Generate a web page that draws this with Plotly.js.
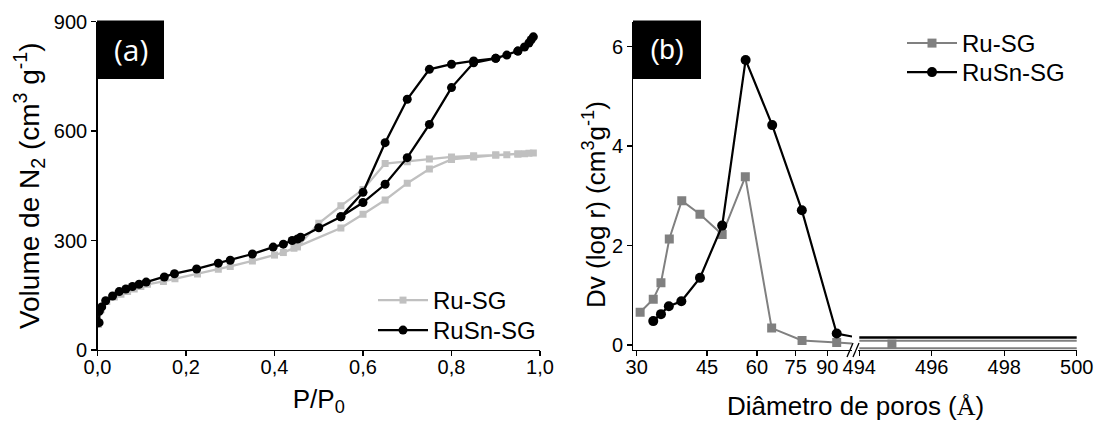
<!DOCTYPE html>
<html>
<head>
<meta charset="utf-8">
<script src="https://cdn.plot.ly/plotly-3.0.1.min.js"></script>
<style>html,body{margin:0;padding:0;background:#fff;}#chart{width:1100px;height:423px;}</style>
</head>
<body>
<div id="chart"></div>
<script>
// ---------- Panel (a): N2 isotherms ----------
const ruP = [0.002, 0.008, 0.021, 0.038, 0.053, 0.068, 0.083, 0.098, 0.113, 0.149, 0.175, 0.226, 0.273, 0.300, 0.350, 0.400, 0.420, 0.444, 0.452, 0.550, 0.600, 0.650, 0.700, 0.750, 0.800, 0.850, 0.900, 0.925, 0.950, 0.965, 0.975, 0.985,
             0.950, 0.900, 0.850, 0.800, 0.750, 0.700, 0.650, 0.600, 0.550, 0.500, 0.452];
const ruV = [70, 110, 133, 145, 153, 160, 167, 174, 180, 188, 195, 208, 221, 229, 244, 260, 267, 279, 283, 334, 372, 411, 457, 496, 522, 529, 534, 535, 537, 538, 539, 540,
             537, 534, 532, 529, 523, 516, 511, 440, 395, 347, 283];
const rusnP = [0.0036, 0.004, 0.0095, 0.0185, 0.034, 0.049, 0.064, 0.079, 0.094, 0.110, 0.151, 0.174, 0.224, 0.273, 0.300, 0.350, 0.397, 0.420, 0.440, 0.452, 0.459, 0.500, 0.550, 0.600, 0.650, 0.700, 0.750, 0.800, 0.850, 0.900, 0.925, 0.950, 0.965, 0.975, 0.980, 0.985,
               0.950, 0.900, 0.850, 0.800, 0.750, 0.700, 0.650, 0.600, 0.550];
const rusnV = [75, 106, 118, 135, 148, 160, 167, 174, 180, 186, 200, 209, 222, 238, 246, 263, 282, 290, 300, 304, 309, 335, 365, 404, 454, 527, 618, 719, 787, 799, 808, 819, 830, 841, 850, 858,
               819, 799, 792, 783, 769, 687, 568, 432, 365];
const xTicksA = [0, 0.2, 0.4, 0.6, 0.8, 1.0];
const yTicksA = [0, 300, 600, 900];

// ---------- Panel (b): pore size distribution ----------
const dRu = [30.6, 33.0, 34.5, 36.2, 38.9, 43.2, 49.1, 56.1, 65.3, 77.8, 95.0];
const dvRu = [0.66, 0.92, 1.25, 2.13, 2.90, 2.63, 2.22, 3.38, 0.34, 0.09, 0.05];
const dRuSn = [33.0, 34.5, 36.1, 38.8, 43.2, 49.1, 56.2, 65.5, 77.7, 95.0];
const dvRuSn = [0.48, 0.62, 0.78, 0.88, 1.35, 2.40, 5.73, 4.42, 2.71, 0.23];
// segments running into the axis break
const ruStubD = [95.0, 103.8], ruStubDv = [0.05, 0.03];
const rusnStubD = [95.0, 103.8], rusnStubDv = [0.23, 0.17];
// right-hand (494-500 Å) segment
const ruTailD = [494, 500], ruTailDvA = [0.085, 0.085], ruTailDvB = [-0.065, -0.065];
const ruTailPtD = [494.9], ruTailPtDv = [0.02];
const rusnTailD = [494, 500], rusnTailDv = [0.15, 0.15];
const xTicksBLeft = [30, 45, 60, 75, 90];
const xTicksBRight = [494, 496, 498, 500];
const yTicksB = [0, 2, 4, 6];

const W = 1100, H = 423;
const px = v => v / W, py = v => 1 - v / H;
const FONT = "Liberation Sans, Arial, sans-serif";

const grayA = '#c0c0c0', grayB = '#808080';

const traces = [
  {x: ruP, y: ruV, xaxis: 'x', yaxis: 'y', name: 'Ru-SG', mode: 'lines+markers', legend: 'legend',
   line: {color: grayA, width: 2.3}, marker: {symbol: 'square', size: 7, color: grayA}},
  {x: rusnP, y: rusnV, xaxis: 'x', yaxis: 'y', name: 'RuSn-SG', mode: 'lines+markers', legend: 'legend3',
   line: {color: '#000', width: 2.3}, marker: {symbol: 'circle', size: 9, color: '#000'}},

  {x: ruStubD, y: ruStubDv, xaxis: 'x2', yaxis: 'y2', mode: 'lines', showlegend: false,
   line: {color: grayB, width: 2}},
  {x: rusnStubD, y: rusnStubDv, xaxis: 'x2', yaxis: 'y2', mode: 'lines', showlegend: false,
   line: {color: '#000', width: 2.2}},
  {x: dRu, y: dvRu, xaxis: 'x2', yaxis: 'y2', name: 'Ru-SG', mode: 'lines+markers', legend: 'legend2',
   line: {color: grayB, width: 2}, marker: {symbol: 'square', size: 9, color: grayB}},
  {x: dRuSn, y: dvRuSn, xaxis: 'x2', yaxis: 'y2', name: 'RuSn-SG', mode: 'lines+markers', legend: 'legend4',
   line: {color: '#000', width: 2.2}, marker: {symbol: 'circle', size: 10, color: '#000'}},

  {x: ruTailD, y: ruTailDvA, xaxis: 'x3', yaxis: 'y2', mode: 'lines', showlegend: false, line: {color: grayB, width: 1.8}},
  {x: ruTailD, y: ruTailDvB, xaxis: 'x3', yaxis: 'y2', mode: 'lines', showlegend: false, line: {color: grayB, width: 1.8}},
  {x: ruTailPtD, y: ruTailPtDv, xaxis: 'x3', yaxis: 'y2', mode: 'markers', showlegend: false,
   marker: {symbol: 'square', size: 9, color: grayB}},
  {x: rusnTailD, y: rusnTailDv, xaxis: 'x3', yaxis: 'y2', mode: 'lines', showlegend: false, line: {color: '#000', width: 2.5}}
];

const axBase = {showgrid: false, zeroline: false, showline: true, linecolor: '#000', linewidth: 1.3,
  ticks: 'outside', ticklen: 5, tickwidth: 1.2, tickcolor: '#000', tickfont: {family: FONT, size: 20, color: '#000'}};
const xTickAdj = {ticklabelstandoff: -6};
const frameBase = {showgrid: false, zeroline: false, showline: true, linecolor: '#000', linewidth: 1.3,
  ticks: 'inside', ticklen: 3, tickwidth: 1, tickcolor: '#444', showticklabels: false, range: [0, 10], dtick: 1, tick0: 0, fixedrange: true};

const yDom = [py(350), py(21.5)];
const aDom = [px(97.5), px(540)];
const bLeftDom = [px(633.3), px(852)];
const bRightDom = [px(858), px(1077)];
const bFullDom = [px(633.3), px(1077)];

const legBase = {xanchor: 'left', yanchor: 'top', bgcolor: 'rgba(0,0,0,0)',
  font: {family: FONT, size: 24, color: '#000'}, itemwidth: 50};

const layout = {
  width: W, height: H,
  margin: {l: 0, r: 0, t: 0, b: 0},
  paper_bgcolor: '#fff', plot_bgcolor: 'rgba(0,0,0,0)',
  separators: ',.',
  font: {family: FONT, color: '#000'},
  xaxis: Object.assign({}, axBase, xTickAdj, {domain: aDom, anchor: 'y', range: [0, 1], tickvals: xTicksA, tickformat: '.1f',
    title: {text: 'P/P<sub>0</sub>', font: {family: FONT, size: 26}, standoff: 12}}),
  yaxis: Object.assign({}, axBase, {domain: yDom, anchor: 'x', range: [0, 900], tickvals: yTicksA,
    title: {text: 'Volume de N<sub>2</sub> (cm<sup>3</sup> g<sup>-1</sup>)', font: {family: FONT, size: 28}, standoff: 6}}),
  xaxis2: Object.assign({}, axBase, xTickAdj, {domain: bLeftDom, anchor: 'y2', type: 'log', range: [1.46859, 2.01602],
    tickvals: xTicksBLeft, ticktext: xTicksBLeft.map(String)}),
  xaxis3: Object.assign({}, axBase, xTickAdj, {domain: bRightDom, anchor: 'y2', range: [493.964, 500.008],
    tickvals: xTicksBRight, ticktext: xTicksBRight.map(String)}),
  yaxis2: Object.assign({}, axBase, {domain: yDom, anchor: 'x2', range: [-0.1005, 6.5025], tickvals: yTicksB}),
  xaxis4: Object.assign({}, frameBase, {domain: aDom, anchor: 'y3', side: 'top'}),
  yaxis3: Object.assign({}, frameBase, {domain: yDom, anchor: 'x4', side: 'right'}),
  xaxis5: Object.assign({}, frameBase, {domain: bFullDom, anchor: 'y4', side: 'top'}),
  yaxis4: Object.assign({}, frameBase, {domain: yDom, anchor: 'x5', side: 'right'}),
  legend: Object.assign({}, legBase, {x: px(373), y: py(278)}),
  legend3: Object.assign({}, legBase, {x: px(373), y: py(308)}),
  legend2: Object.assign({}, legBase, {x: px(902), y: py(21)}),
  legend4: Object.assign({}, legBase, {x: px(902), y: py(50)}),
  shapes: [
    {type: 'rect', xref: 'paper', yref: 'paper', x0: px(97), x1: px(164), y0: py(79), y1: py(20.5),
     fillcolor: '#000', line: {width: 0}, layer: 'above'},
    {type: 'rect', xref: 'paper', yref: 'paper', x0: px(633), x1: px(701), y0: py(79), y1: py(20.5),
     fillcolor: '#000', line: {width: 0}, layer: 'above'},
    {type: 'line', xref: 'paper', yref: 'paper', x0: px(847), y0: py(357), x1: px(853), y1: py(343),
     line: {color: '#000', width: 1.3}},
    {type: 'line', xref: 'paper', yref: 'paper', x0: px(853), y0: py(357), x1: px(859), y1: py(343),
     line: {color: '#000', width: 1.3}}
  ],
  annotations: [
    {text: '(a)', xref: 'paper', yref: 'paper', x: px(130.5), y: py(50), xanchor: 'center', yanchor: 'middle',
     showarrow: false, font: {family: 'Open Sans, sans-serif', size: 30, color: '#fff'}},
    {text: '(b)', xref: 'paper', yref: 'paper', x: px(667), y: py(50), xanchor: 'center', yanchor: 'middle',
     showarrow: false, font: {family: FONT, size: 28, color: '#fff'}},
    {text: 'Dv (log r) (cm<sup>3</sup>g<sup>-1</sup>)', xref: 'paper', yref: 'paper', textangle: -90,
     x: px(595), y: py(205), xanchor: 'center', yanchor: 'middle', showarrow: false,
     font: {family: FONT, size: 26, color: '#000'}},
    {text: "Diâmetro de poros (<span style='font-family:Liberation Serif, serif'>Å</span>)", xref: 'paper', yref: 'paper',
     x: px(855), y: py(406), xanchor: 'center', yanchor: 'middle', showarrow: false,
     font: {family: FONT, size: 26, color: '#000'}}
  ]
};

Plotly.newPlot('chart', traces, layout, {displayModeBar: false, staticPlot: true});
</script>
</body>
</html>
